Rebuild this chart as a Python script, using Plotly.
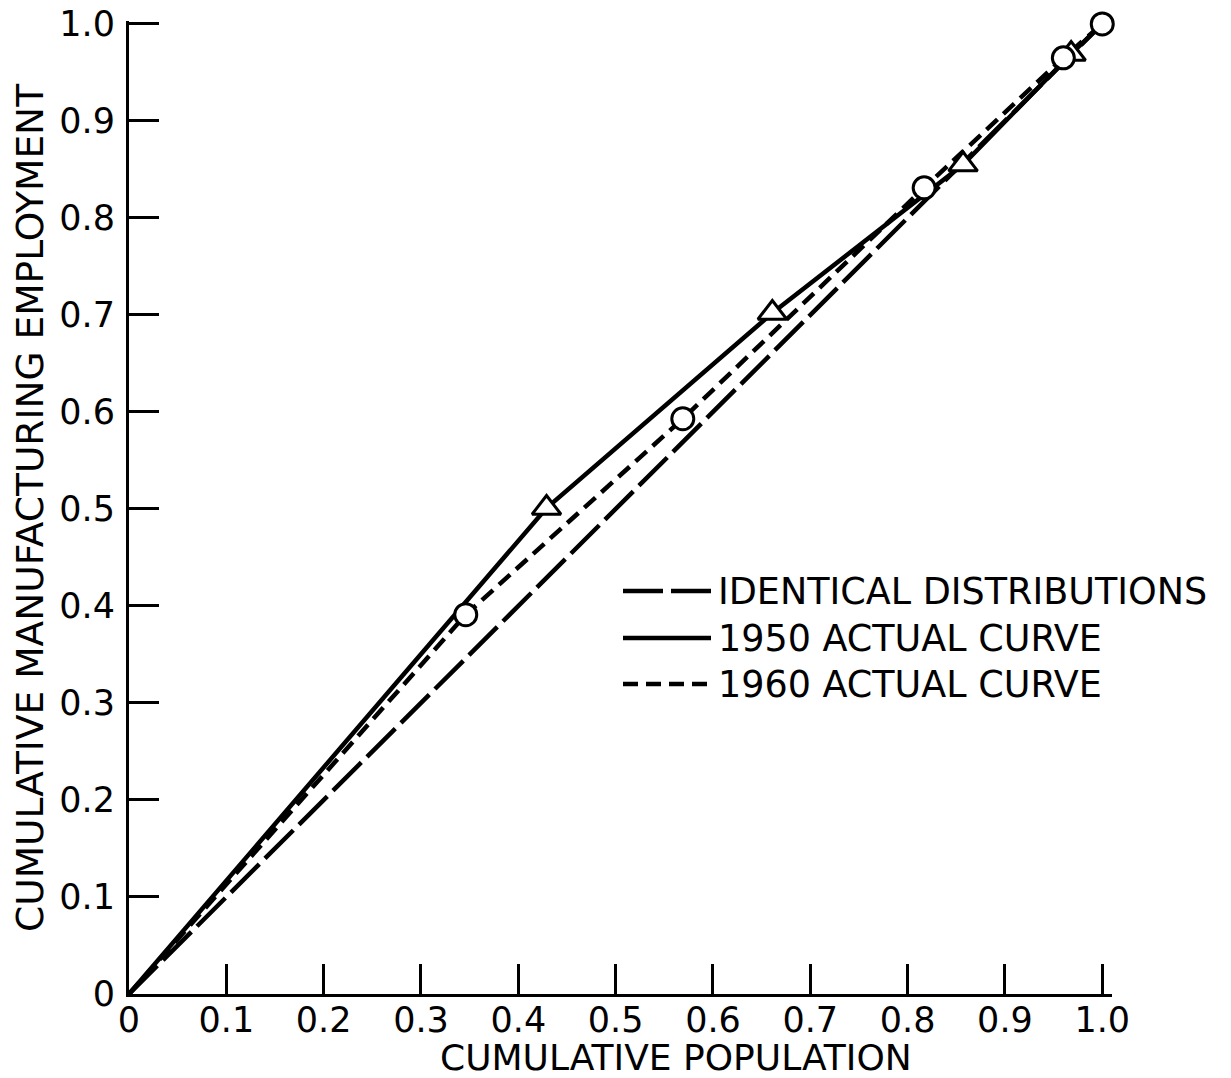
import plotly.graph_objects as go

# ---- data ----
identical_x = [0.0, 1.0]
identical_y = [0.0, 1.0]

y1950_x = [0.0, 0.429, 0.661, 0.857, 0.968, 1.0]
y1950_y = [0.0, 0.501, 0.702, 0.855, 0.969, 1.0]
y1950_marker_x = [0.429, 0.661, 0.857, 0.968]
y1950_marker_y = [0.501, 0.702, 0.855, 0.969]

y1960_x = [0.0, 0.346, 0.569, 0.817, 0.960, 1.0]
y1960_y = [0.0, 0.391, 0.593, 0.831, 0.965, 1.0]
y1960_marker_x = [0.346, 0.569, 0.817, 0.960, 1.0]
y1960_marker_y = [0.391, 0.593, 0.831, 0.965, 1.0]

tick_vals = [0, 0.1, 0.2, 0.3, 0.4, 0.5, 0.6, 0.7, 0.8, 0.9, 1.0]
tick_text = ["0", "0.1", "0.2", "0.3", "0.4", "0.5", "0.6", "0.7", "0.8", "0.9", "1.0"]

x_title = "CUMULATIVE POPULATION"
y_title = "CUMULATIVE MANUFACTURING EMPLOYMENT"
legend_labels = ["IDENTICAL DISTRIBUTIONS", "1950 ACTUAL CURVE", "1960 ACTUAL CURVE"]
legend_dashes = ["40px,8px", "solid", "15px,8px"]

FONT = "DejaVu Sans"
W, H = 1231, 1078
OFF = 7  # page offset of the figure inside the browser window
# plot area in screen pixels
SX0, SX1, SY0, SY1 = 128, 1111, 20, 993
ML = SX0 - OFF
MR = W - (SX1 - OFF)
MT = SY0 - OFF
MB = H - (SY1 - OFF)
PW = SX1 - SX0
PH = SY1 - SY0
Y_TOP = 1.003


def px(sx):
    return (sx - SX0) / PW


def py(sy):
    return (SY1 - sy) / PH


fig = go.Figure()

fig.add_trace(go.Scatter(x=identical_x, y=identical_y, mode="lines",
                         line=dict(color="black", width=4.5, dash=legend_dashes[0]),
                         showlegend=False, cliponaxis=False))
fig.add_trace(go.Scatter(x=y1950_x, y=y1950_y, mode="lines",
                         line=dict(color="black", width=4.5, dash=legend_dashes[1]),
                         showlegend=False, cliponaxis=False))
fig.add_trace(go.Scatter(x=y1960_x, y=y1960_y, mode="lines",
                         line=dict(color="black", width=4.5, dash=legend_dashes[2]),
                         showlegend=False, cliponaxis=False))
fig.add_trace(go.Scatter(x=y1950_marker_x, y=y1950_marker_y, mode="markers",
                         marker=dict(symbol="triangle-up", size=25, color="white",
                                     line=dict(color="black", width=3)),
                         showlegend=False, cliponaxis=False))
fig.add_trace(go.Scatter(x=y1960_marker_x, y=y1960_marker_y, mode="markers",
                         marker=dict(symbol="circle", size=22, color="white",
                                     line=dict(color="black", width=3)),
                         showlegend=False, cliponaxis=False))

# legend drawn as shapes + annotations (paper coordinates)
rows_px = [590, 637, 683]
for lab, dsh, ry in zip(legend_labels, legend_dashes, rows_px):
    fig.add_shape(type="line", xref="paper", yref="paper",
                  x0=px(622), x1=px(710), y0=py(ry), y1=py(ry),
                  line=dict(color="black", width=4.5, dash=dsh))
    fig.add_annotation(xref="paper", yref="paper", x=px(715), y=py(ry),
                       text=lab, showarrow=False, xanchor="left", yanchor="middle",
                       font=dict(family=FONT, size=36.5, color="black"))

# axis titles
fig.add_annotation(xref="paper", yref="paper", x=px(675), y=py(1056),
                   text=x_title, showarrow=False, xanchor="center", yanchor="middle",
                   font=dict(family=FONT, size=36, color="black"))
fig.add_annotation(xref="paper", yref="paper", x=px(29), y=py(507),
                   text=y_title, showarrow=False, xanchor="center", yanchor="middle",
                   textangle=-90,
                   font=dict(family=FONT, size=37.5, color="black"))

axis_common = dict(
    showgrid=False, zeroline=False, showline=True, linecolor="black", linewidth=3,
    ticks="inside", ticklen=30, tickwidth=3, tickcolor="black",
    tickmode="array", tickvals=tick_vals, ticktext=tick_text,
    tickfont=dict(family=FONT, size=35, color="black"), automargin=False,
    ticklabeloverflow="allow",
)

fig.update_layout(
    width=W, height=H,
    margin=dict(l=ML, r=MR, t=MT, b=MB),
    paper_bgcolor="white", plot_bgcolor="white",
    xaxis=dict(range=[0, 1.01], **axis_common, ticklabelstandoff=-7),
    yaxis=dict(range=[0, Y_TOP], **axis_common, ticklabelstandoff=4),
    showlegend=False,
)

fig.write_html("out.html")
